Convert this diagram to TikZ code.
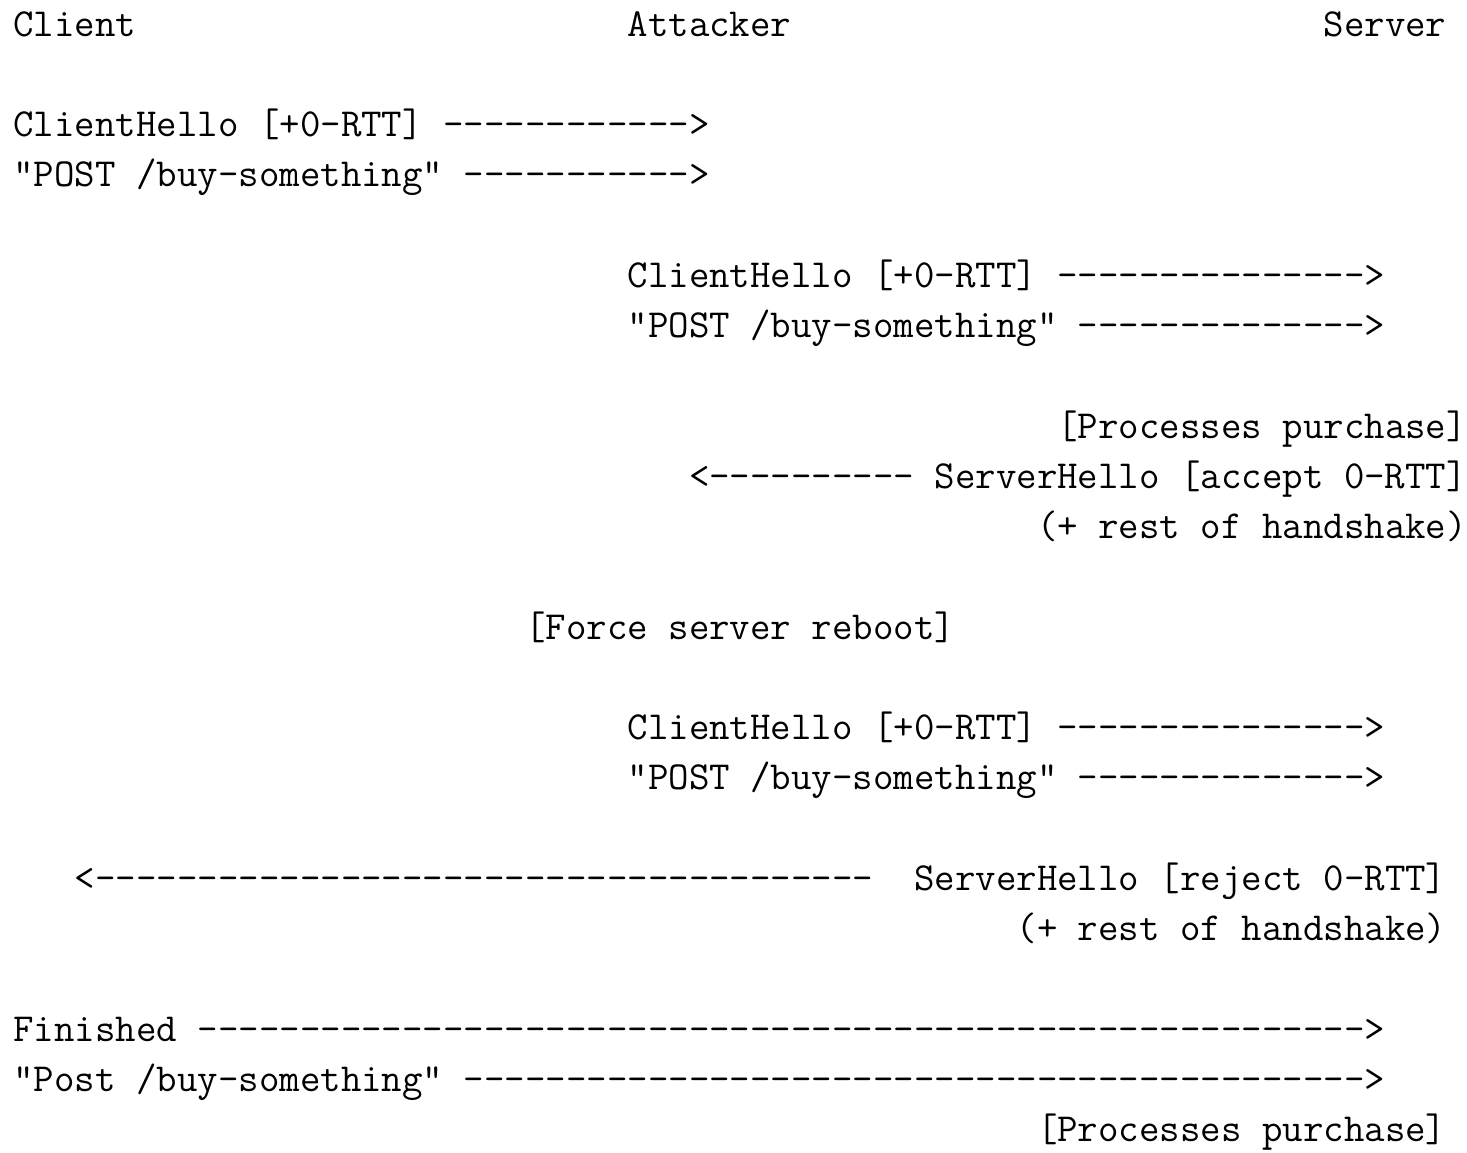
\documentclass[tikz,border=0pt]{standalone}
\usepackage{fontspec}

% one character cell of the monospaced grid, and the line pitch (both in pt)
\newcommand\cellw{20.47}
\newcommand\lineh{50.25}
\newcommand\leftx{13.5}
\newcommand\topy{36}
\newlength\glyphwd

% a run of n hyphens
\newcommand\dashrun[1]{\ifnum#1>0 -\expandafter\dashrun\expandafter{\the\numexpr#1-1\relax}\fi}

\tikzset{
  mono/.style={anchor=base west, inner sep=0pt, outer sep=0pt, text=black,
               font=\ttfamily\fontsize{\monosize pt}{\lineh pt}\selectfont},
}

% \msgline{name}{column}{line}{text}
\newcommand\msgline[4]{\node[mono] (#1) at ({\leftx+#2*\cellw},{\topy+#3*\lineh}) {#4};}

\begin{document}
\settowidth\glyphwd{\ttfamily\fontsize{39pt}{48pt}\selectfont M}%
\pgfmathsetmacro\monosize{39*\cellw/\glyphwd}%
\begin{tikzpicture}[x=1pt,y=-1pt]
  \fill[white] (0,0) rectangle (1467,1152);
  \useasboundingbox (0,0) rectangle (1467,1152);

  % participants
  \msgline{client}{0}{0}{Client}
  \msgline{attacker}{30}{0}{Attacker}
  \msgline{server}{64}{0}{Server}

  % client -> attacker
  \msgline{chA}{0}{2}{ClientHello [+0-RTT] \dashrun{12}>}
  \msgline{postA}{0}{3}{"POST /buy-something" \dashrun{11}>}

  % attacker replays to server
  \msgline{chB}{30}{5}{ClientHello [+0-RTT] \dashrun{15}>}
  \msgline{postB}{30}{6}{"POST /buy-something" \dashrun{14}>}

  \msgline{procA}{51}{8}{[Processes purchase]}
  \msgline{shA}{33}{9}{<\dashrun{10} ServerHello [accept 0-RTT]}
  \msgline{restA}{50}{10}{(+ rest of handshake)}

  \msgline{reboot}{25}{12}{[Force server reboot]}

  % second replay
  \msgline{chC}{30}{14}{ClientHello [+0-RTT] \dashrun{15}>}
  \msgline{postC}{30}{15}{"POST /buy-something" \dashrun{14}>}

  \msgline{rejArrow}{3}{17}{<\dashrun{38}}
  \msgline{shB}{44}{17}{ServerHello [reject 0-RTT]}
  \msgline{restB}{49}{18}{(+ rest of handshake)}

  % client completes the full handshake
  \msgline{fin}{0}{20}{Finished \dashrun{57}>}
  \msgline{postD}{0}{21}{"Post /buy-something" \dashrun{44}>}
  \msgline{procB}{50}{22}{[Processes purchase]}
\end{tikzpicture}
\end{document}
